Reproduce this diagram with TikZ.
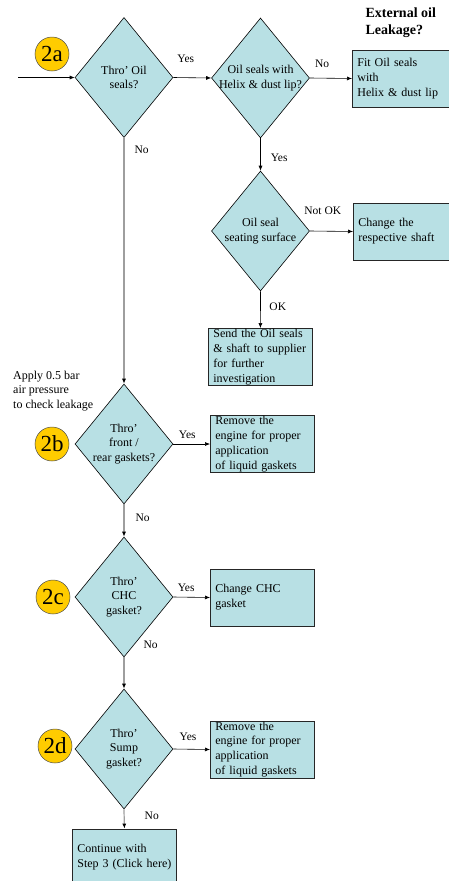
\documentclass[tikz,border=0pt]{standalone}
\usepackage{fontspec}
\setmainfont{Liberation Serif}
\usetikzlibrary{shapes.geometric,arrows.meta}
\definecolor{seafill}{RGB}{184,224,228}
\definecolor{stepgold}{RGB}{255,204,0}

\begin{document}
\begin{tikzpicture}[
	x=1pt, y=-1pt,
	txt/.style={font=\fontsize{12}{14.8}\selectfont},
	lbl/.style={font=\fontsize{11.5}{13}\selectfont, inner sep=2pt},
	query/.style={diamond, draw=black, line width=0.6pt, fill=seafill,
		minimum width=98pt, minimum height=120pt, inner sep=0pt},
	action/.style={rectangle, draw=black!85, line width=0.8pt, fill=seafill,
		minimum height=57pt, text width=94pt, inner xsep=5pt, inner ysep=0pt,
		align=left, anchor=west, txt},
	stepmark/.style={circle, draw=black!70, line width=0.5pt, fill=stepgold,
		minimum size=34pt, inner sep=0pt, font=\fontsize{23}{23}\selectfont},
	yesno/.style={-{Latex[length=5pt,width=4pt]}, line width=0.6pt},
	downline/.style={-{Latex[length=5pt,width=4pt,color=black]}, draw=black!38, line width=1.2pt}]
\useasboundingbox (0,0) rectangle (448,881);

% decisions
\node[query] (oilseals) at (124,77.5) {};
\node[txt, align=center] (toilseals) at (oilseals) {Thro' Oil\\seals?};
\node[query] (helix) at (260.5,78) {};
\node[txt, align=center] (thelix) at (helix) {Oil seals with\\Helix \& dust lip?};
\node[query] (seating) at (260.5,231) {};
\node[txt, align=center] (tseating) at (seating) {Oil seal\\seating surface};
\node[query] (frontrear) at (124,444) {};
\node[txt, align=center] (tfrontrear) at (frontrear) {Thro'\\front /\\rear gaskets?};
\node[query] (chc) at (124,597) {};
\node[txt, align=center] (tchc) at (chc) {Thro'\\CHC\\gasket?};
\node[query] (sump) at (124,749) {};
\node[txt, align=center] (tsump) at (sump) {Thro'\\Sump\\gasket?};

% actions
\node[action] (fitseals) at (352,78.5) {Fit Oil seals\\with\\Helix \& dust lip};
\node[action] (shaft) at (353,231.5) {Change the\\respective shaft};
\node[action] (supplier) at (208,357) {Send the Oil seals\\\& shaft to supplier\\for further\\investigation};
\node[action] (removefront) at (210,444) {Remove the\\engine for proper\\application\\of liquid gaskets};
\node[action] (changechc) at (210,597.5) {Change CHC\\gasket};
\node[action] (removesump) at (210,749.5) {Remove the\\engine for proper\\application\\of liquid gaskets};
\node[action] (continue) at (72,857.5) {Continue with\\Step 3 (Click here)};

% step marks and notes
\node[stepmark] (mark2a) at (52,54) {2a};
\node[stepmark] (mark2b) at (52,444) {2b};
\node[stepmark] (mark2c) at (53,597) {2c};
\node[stepmark] (mark2d) at (55,746) {2d};
\node[anchor=west, align=left, font=\fontsize{14}{17}\selectfont\bfseries] (title) at (362,22.5) {External oil\\Leakage?};
\node[anchor=west, align=left, font=\fontsize{12}{14.5}\selectfont, inner sep=0pt] (pressure) at (13,391) {Apply 0.5 bar\\air pressure\\to check leakage};

\coordinate (entry) at (18,77.5);

% connectors
\draw[yesno] (entry) -- (oilseals.west);
\draw[yesno] (oilseals.east) -- node[lbl, above=13pt, pos=.33] (yes1) {Yes} (helix.west);
\draw[yesno] (helix.east) -- node[lbl, above=8pt, pos=.29] (no1) {No} (fitseals.west);
\draw[yesno] (helix.south) -- node[lbl, right=8pt, pos=.6] (yes2) {Yes} (seating.north);
\draw[yesno] (seating.east) -- node[lbl, above=14pt, pos=.3] (notok) {Not OK} (shaft.west);
\draw[yesno] (seating.south) -- node[lbl, right=6.7pt, pos=.43] (ok) {OK} (supplier.north);
\draw[downline] (oilseals.south) -- node[lbl, right=8pt, pos=.05] (no2) {No} (frontrear.north);
\draw[yesno] (frontrear.east) -- node[lbl, above=3pt, pos=.38] (yes3) {Yes} (removefront.west);
\draw[downline] (frontrear.south) -- node[lbl, right=9pt, pos=.42] (no3) {No} (chc.north);
\draw[yesno] (chc.east) -- node[lbl, above=3pt, pos=.35] (yes4) {Yes} (changechc.west);
\draw[downline] (chc.south) -- node[lbl, anchor=south west, xshift=17pt, yshift=6pt, pos=0] (no4) {No} (sump.north);
\draw[yesno] (sump.east) -- node[lbl, above=6pt, pos=.4] (yes5) {Yes} (removesump.west);
\draw[downline] (sump.south) -- node[lbl, right=18pt, pos=.35] (no5) {No} (continue.north);
\end{tikzpicture}
\end{document}
